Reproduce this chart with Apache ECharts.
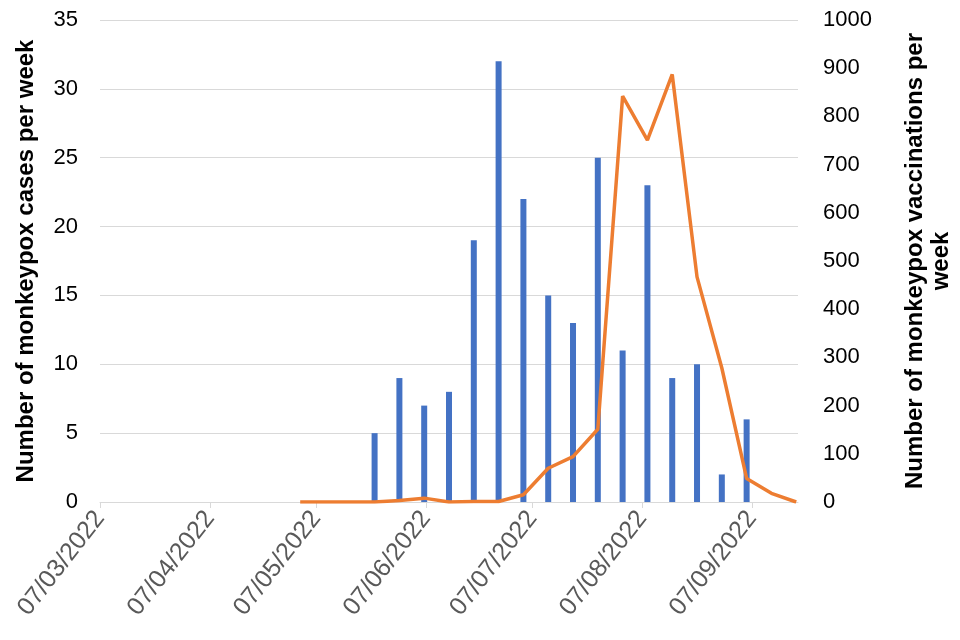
<!DOCTYPE html>
<html>
<head>
<meta charset="utf-8">
<script src="https://cdn.jsdelivr.net/npm/echarts@6/dist/echarts.min.js"></script>
<style>html,body{margin:0;padding:0;background:#fff}#c{width:960px;height:640px}</style>
</head>
<body>
<div id="c"></div>
<script>
// ---- data ----
const tickDates = ['2022-03-07','2022-04-07','2022-05-07','2022-06-07','2022-07-07','2022-08-07','2022-09-07'];
const tickLabels = ['07/03/2022','07/04/2022','07/05/2022','07/06/2022','07/07/2022','07/08/2022','07/09/2022'];
const caseWeeks = ['2022-05-23','2022-05-30','2022-06-06','2022-06-13','2022-06-20','2022-06-27','2022-07-04','2022-07-11','2022-07-18','2022-07-25','2022-08-01','2022-08-08','2022-08-15','2022-08-22','2022-08-29','2022-09-05'];
const cases = [5,9,7,8,19,32,22,15,13,25,11,23,9,10,2,6];
const vaccWeeks = ['2022-05-02','2022-05-09','2022-05-16','2022-05-23','2022-05-30','2022-06-06','2022-06-13','2022-06-20','2022-06-27','2022-07-04','2022-07-11','2022-07-18','2022-07-25','2022-08-01','2022-08-08','2022-08-15','2022-08-22','2022-08-29','2022-09-05','2022-09-12','2022-09-19'];
const vaccinations = [0,0,0,0,3,8,0,1,1,15,70,94,151,842,751,887,467,278,49,18,0];
const axisStart = '2022-03-07';
const axisEnd = '2022-09-20';

// days since axis start (UTC, no DST issues)
function utc(s){const p=s.split('-').map(Number);return Date.UTC(p[0],p[1]-1,p[2]);}
const DAY = 86400000;
function day(s){return Math.round((utc(s)-utc(axisStart))/DAY);}
const MID = 0.5; // date-axis points sit in the middle of their day slot

const tickPos = tickDates.map(day);
const font = 'Liberation Sans, Arial, sans-serif';

const chart = echarts.init(document.getElementById('c'), null, {renderer:'canvas'});
chart.setOption({
  animation:false,
  backgroundColor:'#ffffff',
  textStyle:{fontFamily:font},
  grid:{left:100,right:162,top:20,bottom:138,containLabel:false,outerBoundsMode:'none'},
  xAxis:{
    type:'value',
    min:0,
    max:day(axisEnd),
    axisLine:{show:true,onZero:false,lineStyle:{color:'#d9d9d9',width:1}},
    axisTick:{show:true,customValues:tickPos,length:6,lineStyle:{color:'#d9d9d9'}},
    axisLabel:{customValues:tickPos,rotate:52,
      formatter:function(v){const i=tickPos.indexOf(Math.round(v));return i>=0?tickLabels[i]:'';},
      color:'#595959',fontSize:25,fontFamily:font,margin:12,hideOverlap:false,showMinLabel:true,showMaxLabel:true},
    splitLine:{show:false}
  },
  yAxis:[{
    type:'value',min:0,max:35,interval:5,
    name:'Number of monkeypox cases per week',
    nameLocation:'middle',nameGap:62,nameRotate:90,
    nameTextStyle:{fontSize:24,fontWeight:'bold',color:'#000',fontFamily:font},
    axisLine:{show:false},axisTick:{show:false},
    axisLabel:{fontSize:22,color:'#000',margin:22,fontFamily:font},
    splitLine:{show:true,lineStyle:{color:'#d9d9d9',width:1}}
  },{
    type:'value',min:0,max:1000,interval:100,position:'right',
    name:'Number of monkeypox vaccinations per\nweek',
    nameLocation:'middle',nameGap:104,nameRotate:90,
    nameTextStyle:{fontSize:24,fontWeight:'bold',color:'#000',fontFamily:font,lineHeight:26},
    axisLine:{show:false},axisTick:{show:false},
    axisLabel:{fontSize:22,color:'#000',margin:25,fontFamily:font,formatter:function(v){return String(v);}},
    splitLine:{show:false}
  }],
  series:[{
    name:'Cases',type:'bar',yAxisIndex:0,barWidth:6,
    itemStyle:{color:'#4472C4'},
    data:caseWeeks.map((w,i)=>[day(w)+MID,cases[i]]),
    z:2
  },{
    name:'Vaccinations',type:'line',yAxisIndex:1,
    showSymbol:false,symbol:'none',
    lineStyle:{color:'#ED7D31',width:3.5},
    itemStyle:{color:'#ED7D31'},
    data:vaccWeeks.map((w,i)=>[day(w)+MID,vaccinations[i]]),
    z:3
  }]
});
</script>
</body>
</html>
